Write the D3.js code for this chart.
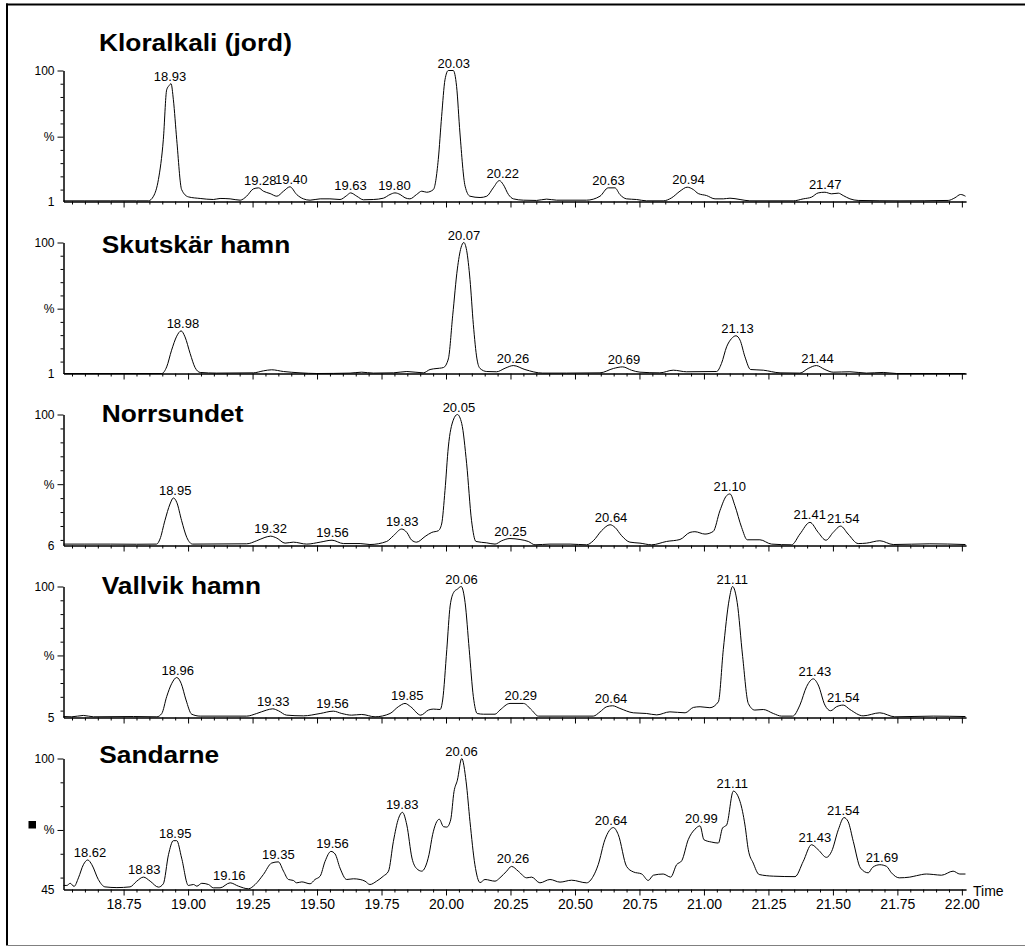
<!DOCTYPE html>
<html>
<head>
<meta charset="utf-8">
<script src="https://cdn.jsdelivr.net/npm/d3@7"></script>
<style>
  html, body { margin: 0; padding: 0; background: #fff; }
  svg { display: block; }
</style>
</head>
<body>
<svg id="chart" width="1025" height="947"></svg>
<script>
// Sample names, one chromatogram per sample (top to bottom)
const sampleNames = ["Kloralkali (jord)", "Skutskär hamn", "Norrsundet", "Vallvik hamn", "Sandarne"];

// Lowest % shown on each panel's intensity axis
const baseLevels = [1, 1, 6, 5, 45];

// Traces: [retention time (min), relative intensity (%)]
const kloralkaliTrace = [
  [18.517,1.5],[18.60,1.5],[18.70,1.5],[18.80,1.5],[18.846,1.5],[18.866,5.0],[18.885,17.6],[18.904,47.7],
  [18.917,85.4],[18.926,88.5],[18.934,90.0],[18.943,77.9],[18.956,47.7],[18.975,10.0],[19.001,4.5],[19.047,3.3],
  [19.098,2.5],[19.124,3.3],[19.163,3.0],[19.202,2.0],[19.227,5.0],[19.253,10.5],[19.273,11.3],[19.292,8.8],
  [19.318,7.0],[19.344,5.0],[19.370,8.8],[19.395,12.1],[19.421,6.3],[19.447,3.0],[19.473,2.0],[19.512,3.0],
  [19.550,3.0],[19.589,2.5],[19.615,5.5],[19.630,7.5],[19.654,5.0],[19.680,2.3],[19.718,2.5],[19.757,3.5],
  [19.783,6.3],[19.802,7.5],[19.822,6.3],[19.841,3.8],[19.860,3.0],[19.886,6.3],[19.906,8.8],[19.925,8.0],
  [19.951,10.0],[19.970,32.7],[19.983,65.3],[19.996,93.0],[20.009,100],[20.028,100],[20.041,88.0],[20.054,52.8],
  [20.074,12.6],[20.093,5.0],[20.132,4.0],[20.158,5.0],[20.183,11.3],[20.207,16.8],[20.222,13.8],[20.242,6.3],
  [20.261,3.0],[20.300,2.0],[20.351,1.8],[20.390,2.8],[20.429,2.0],[20.545,2.0],[20.597,5.0],[20.629,11.3],
  [20.655,11.3],[20.674,6.3],[20.700,3.0],[20.739,2.5],[20.778,1.5],[20.842,1.5],[20.875,3.8],[20.907,8.8],
  [20.935,11.8],[20.959,10.0],[20.978,7.0],[21.010,5.5],[21.043,3.0],[21.075,3.0],[21.101,3.5],[21.140,2.5],
  [21.178,1.5],[21.346,1.5],[21.385,3.0],[21.417,4.3],[21.443,7.5],[21.469,8.0],[21.495,6.8],[21.521,7.3],
  [21.540,5.5],[21.566,3.0],[21.598,1.8],[21.760,1.5],[21.947,1.8],[21.973,3.8],[21.995,6.3],[22.014,5.0]
];
const skutskarTrace = [
  [18.517,1.0],[18.60,1.0],[18.70,1.0],[18.80,1.0],[18.898,1.0],[18.917,6.0],[18.936,18.6],[18.956,29.2],
  [18.973,33.2],[18.988,28.7],[19.008,16.1],[19.027,5.5],[19.047,1.8],[19.111,1.3],[19.253,1.5],[19.292,3.0],
  [19.324,3.8],[19.370,2.5],[19.434,1.5],[19.499,1.0],[19.628,1.3],[19.673,2.0],[19.718,1.3],[19.796,1.5],
  [19.848,2.5],[19.912,1.5],[19.938,4.0],[19.951,4.5],[19.975,5.0],[19.990,5.5],[20.009,12.0],[20.026,45.0],
  [20.044,80.0],[20.058,96.0],[20.069,100],[20.080,94.0],[20.093,72.0],[20.106,38.0],[20.120,12.0],[20.132,4.8],
  [20.158,2.5],[20.196,2.3],[20.229,5.0],[20.261,7.0],[20.306,4.0],[20.375,1.3],[20.467,1.3],[20.597,1.5],
  [20.649,4.8],[20.685,6.0],[20.719,3.5],[20.752,2.0],[20.829,1.5],[20.881,3.5],[20.933,2.3],[21.049,2.5],
  [21.068,8.6],[21.088,21.2],[21.107,27.4],[21.124,29.5],[21.140,26.2],[21.159,13.6],[21.181,4.0],[21.230,3.5],
  [21.295,1.5],[21.372,1.3],[21.404,4.8],[21.436,7.0],[21.469,4.0],[21.501,2.0],[21.566,2.3],[21.630,1.3],
  [21.695,1.8],[21.747,1.0],[22.014,1.0]
];
const norrsundetTrace = [
  [18.517,7.0],[18.60,7.0],[18.70,7.0],[18.80,6.9],[18.878,7.0],[18.891,10.6],[18.910,23.8],[18.930,35.8],
  [18.943,40.1],[18.956,37.0],[18.975,23.8],[18.995,11.8],[19.018,7.0],[19.227,7.2],[19.266,9.4],[19.298,11.8],
  [19.320,12.7],[19.344,11.3],[19.376,7.7],[19.408,8.4],[19.460,7.0],[19.512,8.4],[19.558,9.8],[19.602,7.4],
  [19.667,7.4],[19.705,6.7],[19.770,8.9],[19.796,13.0],[19.828,17.8],[19.848,15.4],[19.867,9.8],[19.886,8.4],
  [19.919,12.5],[19.945,15.4],[19.970,16.6],[19.983,21.4],[19.996,45.4],[20.009,76.7],[20.028,95.9],[20.044,100],
  [20.061,93.5],[20.080,64.7],[20.099,23.8],[20.116,8.9],[20.158,7.9],[20.190,7.0],[20.216,9.4],[20.248,11.0],
  [20.287,10.3],[20.319,8.9],[20.345,6.5],[20.403,7.0],[20.481,7.0],[20.545,6.5],[20.571,9.4],[20.603,16.6],
  [20.636,20.9],[20.655,19.0],[20.681,13.0],[20.713,8.4],[20.752,7.7],[20.797,6.5],[20.855,8.9],[20.907,10.3],
  [20.946,15.4],[20.965,15.9],[21.004,14.2],[21.036,16.1],[21.062,31.0],[21.088,41.8],[21.101,43.0],[21.120,34.6],
  [21.146,19.0],[21.168,10.1],[21.217,10.1],[21.262,7.0],[21.340,6.5],[21.372,14.2],[21.411,22.6],[21.443,15.4],
  [21.473,9.8],[21.501,15.4],[21.530,19.9],[21.559,14.2],[21.598,7.4],[21.630,7.7],[21.682,9.4],[21.734,6.7],
  [21.876,7.2],[22.014,6.7]
];
const vallvikTrace = [
  [18.517,5.7],[18.549,5.5],[18.594,6.5],[18.633,5.5],[18.788,5.7],[18.879,5.5],[18.898,7.9],[18.917,20.1],
  [18.937,29.8],[18.956,34.0],[18.973,29.8],[18.992,17.7],[19.014,7.4],[19.047,6.0],[19.227,6.0],[19.266,7.9],
  [19.305,10.4],[19.328,11.3],[19.350,9.9],[19.382,6.7],[19.447,6.2],[19.512,7.9],[19.563,9.6],[19.596,7.9],
  [19.634,6.7],[19.673,7.2],[19.725,5.5],[19.783,7.9],[19.815,12.8],[19.841,15.2],[19.863,12.8],[19.902,6.7],
  [19.932,10.4],[19.951,11.1],[19.977,10.8],[19.987,17.7],[20.003,54.2],[20.016,85.9],[20.031,96.1],[20.044,98.1],
  [20.059,100],[20.074,88.3],[20.090,54.2],[20.106,20.1],[20.121,7.9],[20.145,7.4],[20.190,7.4],[20.209,10.4],
  [20.248,15.2],[20.300,15.2],[20.332,10.4],[20.358,6.0],[20.571,6.0],[20.597,9.1],[20.623,12.8],[20.646,13.5],
  [20.674,11.6],[20.726,8.4],[20.778,7.9],[20.817,6.9],[20.868,9.1],[20.927,8.4],[20.959,12.3],[20.985,12.8],
  [21.023,12.1],[21.056,16.4],[21.075,54.2],[21.098,90.7],[21.111,100],[21.129,88.3],[21.150,49.3],[21.172,15.2],
  [21.197,10.4],[21.230,10.8],[21.269,7.9],[21.301,6.0],[21.344,6.0],[21.372,14.0],[21.398,27.4],[21.424,33.0],
  [21.443,28.6],[21.469,14.0],[21.491,9.9],[21.514,12.8],[21.540,14.0],[21.566,10.8],[21.617,6.2],[21.682,8.4],
  [21.740,5.5],[21.889,6.0],[22.014,5.7]
];
const sandarneTrace = [
  [18.517,46.7],[18.530,46.7],[18.543,47.6],[18.558,46.3],[18.575,49.9],[18.594,55.4],[18.611,57.4],[18.627,55.4],
  [18.652,49.2],[18.678,46.1],[18.724,45.8],[18.775,46.1],[18.801,48.5],[18.827,50.2],[18.853,48.5],[18.885,46.0],
  [18.904,47.4],[18.924,59.6],[18.943,65.5],[18.956,65.5],[18.975,58.2],[19.001,46.7],[19.021,47.1],[19.034,46.4],
  [19.053,47.6],[19.079,47.1],[19.098,45.7],[19.124,45.7],[19.163,47.8],[19.195,46.4],[19.234,45.3],[19.260,47.1],
  [19.292,51.3],[19.324,56.1],[19.350,56.6],[19.370,52.7],[19.389,49.2],[19.408,48.8],[19.421,47.8],[19.441,48.2],
  [19.473,47.4],[19.492,49.2],[19.512,50.6],[19.531,56.8],[19.554,61.0],[19.570,59.9],[19.589,54.0],[19.615,49.2],
  [19.641,49.5],[19.667,49.2],[19.686,48.5],[19.705,47.1],[19.731,48.5],[19.757,50.6],[19.777,52.7],[19.796,65.2],
  [19.816,74.9],[19.831,77.4],[19.848,72.1],[19.868,58.2],[19.886,53.8],[19.906,52.7],[19.919,54.3],[19.934,59.6],
  [19.948,68.0],[19.974,74.5],[19.990,71.4],[20.003,71.2],[20.018,74.2],[20.031,86.1],[20.044,90.9],[20.061,100],
  [20.078,90.2],[20.093,73.5],[20.112,55.4],[20.132,47.9],[20.151,49.2],[20.190,48.5],[20.209,49.9],[20.235,52.7],
  [20.254,54.7],[20.280,52.7],[20.313,49.9],[20.332,50.2],[20.364,47.8],[20.403,49.2],[20.442,48.1],[20.487,48.9],
  [20.545,47.8],[20.571,50.6],[20.590,55.4],[20.616,65.9],[20.649,71.0],[20.668,68.0],[20.700,54.7],[20.726,52.4],
  [20.759,51.5],[20.784,48.8],[20.804,51.0],[20.842,51.5],[20.871,50.2],[20.894,55.4],[20.914,57.1],[20.939,65.9],
  [20.965,70.3],[20.985,71.7],[21.000,65.9],[21.030,64.9],[21.056,64.5],[21.072,70.8],[21.088,72.1],[21.114,86.3],
  [21.140,81.9],[21.159,72.1],[21.172,61.7],[21.191,56.1],[21.214,51.3],[21.269,50.6],[21.353,50.4],[21.385,56.8],
  [21.417,63.8],[21.443,61.7],[21.475,58.5],[21.495,61.0],[21.521,70.1],[21.543,75.2],[21.559,73.5],[21.579,65.2],
  [21.607,54.0],[21.637,52.0],[21.654,54.3],[21.682,55.4],[21.708,54.7],[21.727,52.0],[21.757,49.9],[21.798,50.2],
  [21.824,50.8],[21.863,51.5],[21.889,51.3],[21.921,51.0],[21.966,52.7],[21.992,51.5],[22.014,51.5]
];

// Peak annotations (retention times) per sample
const kloralkaliPeaks = [18.93, 19.28, 19.40, 19.63, 19.80, 20.03, 20.22, 20.63, 20.94, 21.47];
const skutskarPeaks   = [18.98, 20.07, 20.26, 20.69, 21.13, 21.44];
const norrsundetPeaks = [18.95, 19.32, 19.56, 19.83, 20.05, 20.25, 20.64, 21.10, 21.41, 21.54];
const vallvikPeaks    = [18.96, 19.33, 19.56, 19.85, 20.06, 20.29, 20.64, 21.11, 21.43, 21.54];
const sandarnePeaks   = [18.62, 18.83, 18.95, 19.16, 19.35, 19.56, 19.83, 20.06, 20.26, 20.64, 20.99, 21.11, 21.43, 21.54, 21.69];

// Time axis labels
const timeTickLabels = ["18.75","19.00","19.25","19.50","19.75","20.00","20.25","20.50","20.75","21.00","21.25","21.50","21.75","22.00"];

const traces = [kloralkaliTrace, skutskarTrace, norrsundetTrace, vallvikTrace, sandarneTrace];
const peaks = [kloralkaliPeaks, skutskarPeaks, norrsundetPeaks, vallvikPeaks, sandarnePeaks];

// ---- layout ----
const FONT = "Arial, 'Liberation Sans', Helvetica, sans-serif";
const svg = d3.select("#chart");
svg.append("rect").attr("width", 1025).attr("height", 947).attr("fill", "#fff");

const x = d3.scaleLinear().domain([18.517, 22.016]).range([63.5, 966]);
const majorTimes = timeTickLabels.map(Number);
const minorTimes = d3.range(371, 441).filter(k => k % 5 !== 0).map(k => k * 0.05);

const titlePos = [[99, 50.7], [101.7, 253.3], [101.7, 421.7], [101.7, 594.3], [99.3, 763.3]];

const line = d3.line().curve(d3.curveMonotoneX);

sampleNames.forEach((name, i) => {
  const base = baseLevels[i];
  const top = 70.5 + 172 * i;
  const bottom = top + 131;
  const y = d3.scaleLinear().domain([base, 100]).range([bottom, top]);
  const last = i === sampleNames.length - 1;
  const g = svg.append("g").attr("font-family", FONT);

  // time axis: minor and major ticks hanging below the baseline
  g.append("g")
    .attr("transform", `translate(0,${bottom})`)
    .call(d3.axisBottom(x).tickValues(minorTimes).tickSize(3).tickSizeOuter(0).tickFormat(""));
  const xa = g.append("g")
    .attr("transform", `translate(0,${bottom})`)
    .call(d3.axisBottom(x).tickValues(majorTimes).tickSize(6).tickSizeOuter(0).tickPadding(4)
      .tickFormat((d, k) => last ? timeTickLabels[k] : ""));
  xa.selectAll("text").attr("font-size", 14).attr("fill", "#000").attr("font-family", FONT);

  // intensity axis
  const tens = d3.range(10, 101, 10).filter(v => v > base);
  const mid = (base + 100) / 2;
  const pct = tens.reduce((a, b) => Math.abs(b - mid) < Math.abs(a - mid) ? b : a);
  const minorY = tens.filter(v => v !== pct && v !== 100);
  g.append("g")
    .attr("transform", "translate(63.5,0)")
    .call(d3.axisLeft(y).tickValues(minorY).tickSize(3).tickSizeOuter(0).tickFormat(""));
  const ya = g.append("g")
    .attr("transform", "translate(63.5,0)")
    .call(d3.axisLeft(y).tickValues([base, pct, 100]).tickSize(6).tickSizeOuter(0).tickPadding(3)
      .tickFormat(v => v === 100 ? "100" : v === base ? String(base) : "%"));
  ya.selectAll("text").attr("font-size", 12).attr("fill", "#000").attr("font-family", FONT);
  ya.selectAll(".tick").filter(v => v === base).select("line").remove();
  g.selectAll(".domain, .tick line").attr("stroke", "#000").attr("stroke-width", 1);

  // chromatogram trace
  line.x(d => x(d[0])).y(d => y(d[1]));
  g.append("path")
    .datum(traces[i])
    .attr("d", line)
    .attr("fill", "none")
    .attr("stroke", "#000")
    .attr("stroke-width", 1);

  // peak retention-time labels sit just above the local maximum
  peaks[i].forEach(t => {
    const near = traces[i].filter(d => Math.abs(d[0] - t) <= 0.03);
    const v = d3.max(near, d => d[1]);
    g.append("text")
      .attr("x", x(t))
      .attr("y", y(v) - 3)
      .attr("text-anchor", "middle")
      .attr("font-size", 13)
      .attr("fill", "#000")
      .text(t.toFixed(2));
  });

  // sample title
  g.append("text")
    .attr("transform", `translate(${titlePos[i][0]},${titlePos[i][1]}) scale(1.12,1)`)
    .attr("font-size", 23.5)
    .attr("font-weight", "bold")
    .attr("fill", "#000")
    .text(name);

  if (last) {
    g.append("text")
      .attr("x", 973)
      .attr("y", bottom + 6.5)
      .attr("font-size", 14)
      .attr("fill", "#000")
      .text("Time");
    g.append("rect")
      .attr("x", 28.5).attr("y", 821)
      .attr("width", 7.5).attr("height", 7.5)
      .attr("fill", "#000");
  }
});

// frame
svg.append("line").attr("x1", 7).attr("x2", 7).attr("y1", 3.5).attr("y2", 946)
  .attr("stroke", "#000").attr("stroke-width", 2);
svg.append("line").attr("x1", 6).attr("x2", 1025).attr("y1", 4.5).attr("y2", 4.5)
  .attr("stroke", "#000").attr("stroke-width", 2);
svg.append("line").attr("x1", 6).attr("x2", 1025).attr("y1", 945.5).attr("y2", 945.5)
  .attr("stroke", "#808080").attr("stroke-width", 1);
</script>
</body>
</html>
